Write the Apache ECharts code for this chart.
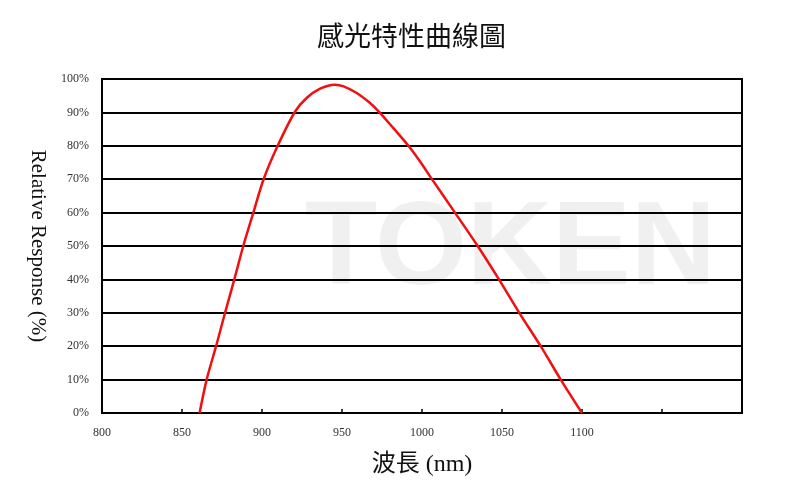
<!DOCTYPE html>
<html>
<head>
<meta charset="utf-8">
<script src="https://cdn.jsdelivr.net/npm/echarts@6/dist/echarts.min.js"></script>
<style>html,body{margin:0;padding:0;background:#fff;}#c{width:800px;height:503px;}</style>
</head>
<body>
<div id="c"></div>
<script>
const titleText = '感光特性曲線圖';
const xAxisName = '波長 (nm)';
const yAxisName = 'Relative Response (%)';
const xTickLabels = [800, 850, 900, 950, 1000, 1050, 1100];
const yTickLabels = ['0%','10%','20%','30%','40%','50%','60%','70%','80%','90%','100%'];
const wavelengths = [861, 865.4, 871.3, 876.9, 882.7, 888.3, 894.6, 901, 909.8, 920.6, 927.9, 936.3, 945.6, 951, 959.2, 967.5, 973.3, 982.1, 991.4, 998.8, 1006.1, 1020.6, 1034.8, 1048.1, 1060.8, 1074.2, 1086.7, 1100];
const responses   = [0, 10, 20, 30, 40, 50, 60, 70, 80, 90.2, 94.3, 97.1, 98.3, 97.8, 95.8, 92.8, 90.1, 85.3, 80.1, 75.3, 70.1, 60, 50, 40, 30, 20, 10, 0];

const serif = "'Liberation Serif', 'Noto Sans CJK TC', serif";
const chart = echarts.init(document.getElementById('c'), null, {renderer: 'canvas'});
chart.setOption({
  backgroundColor: '#ffffff',
  animation: false,
  title: {
    text: titleText, left: 312, top: 17,
    textStyle: {fontFamily: "'Noto Sans CJK TC', serif", fontSize: 27, fontWeight: 'normal', color: '#111'}
  },
  graphic: [{
    type: 'text', z: -10, left: 305, top: 192,
    style: {text: 'TOKEN', fontFamily: "'Liberation Sans', Arial, sans-serif", fontWeight: 'bold', fontSize: 118, fill: '#f0f0f0'}
  }],
  grid: {left: 102, right: 58, top: 79, bottom: 90, show: true, borderColor: '#000', borderWidth: 2, backgroundColor: 'transparent'},
  xAxis: {
    type: 'value', min: 800, max: 1200, interval: 50,
    name: xAxisName, nameLocation: 'middle', nameGap: 40,
    nameTextStyle: {fontFamily: serif, fontSize: 24, color: '#111'},
    axisLine: {show: true, lineStyle: {color: '#000', width: 2}},
    axisTick: {show: true, inside: true, length: 4, lineStyle: {color: '#000', width: 1.5}},
    axisLabel: {
      margin: 14, fontFamily: serif, fontSize: 12, color: '#333',
      formatter: function (v) { return xTickLabels.indexOf(v) >= 0 ? String(v) : ''; }
    },
    splitLine: {show: false}
  },
  yAxis: {
    type: 'value', min: 0, max: 100, interval: 10,
    name: yAxisName, nameLocation: 'middle', nameGap: 54, nameRotate: -90,
    nameTextStyle: {fontFamily: serif, fontSize: 21, color: '#111'},
    axisLine: {show: true, lineStyle: {color: '#000', width: 2}},
    axisTick: {show: false},
    axisLabel: {
      margin: 13, fontFamily: serif, fontSize: 12, color: '#333',
      formatter: function (v) { return yTickLabels[Math.round(v / 10)]; }
    },
    splitLine: {show: true, lineStyle: {color: '#000', width: 2}}
  },
  series: [{
    type: 'line', smooth: 0.3, symbol: 'none', z: 5,
    lineStyle: {color: '#f01010', width: 2.5},
    data: wavelengths.map((w, i) => [w, responses[i]])
  }]
});
</script>
</body>
</html>
